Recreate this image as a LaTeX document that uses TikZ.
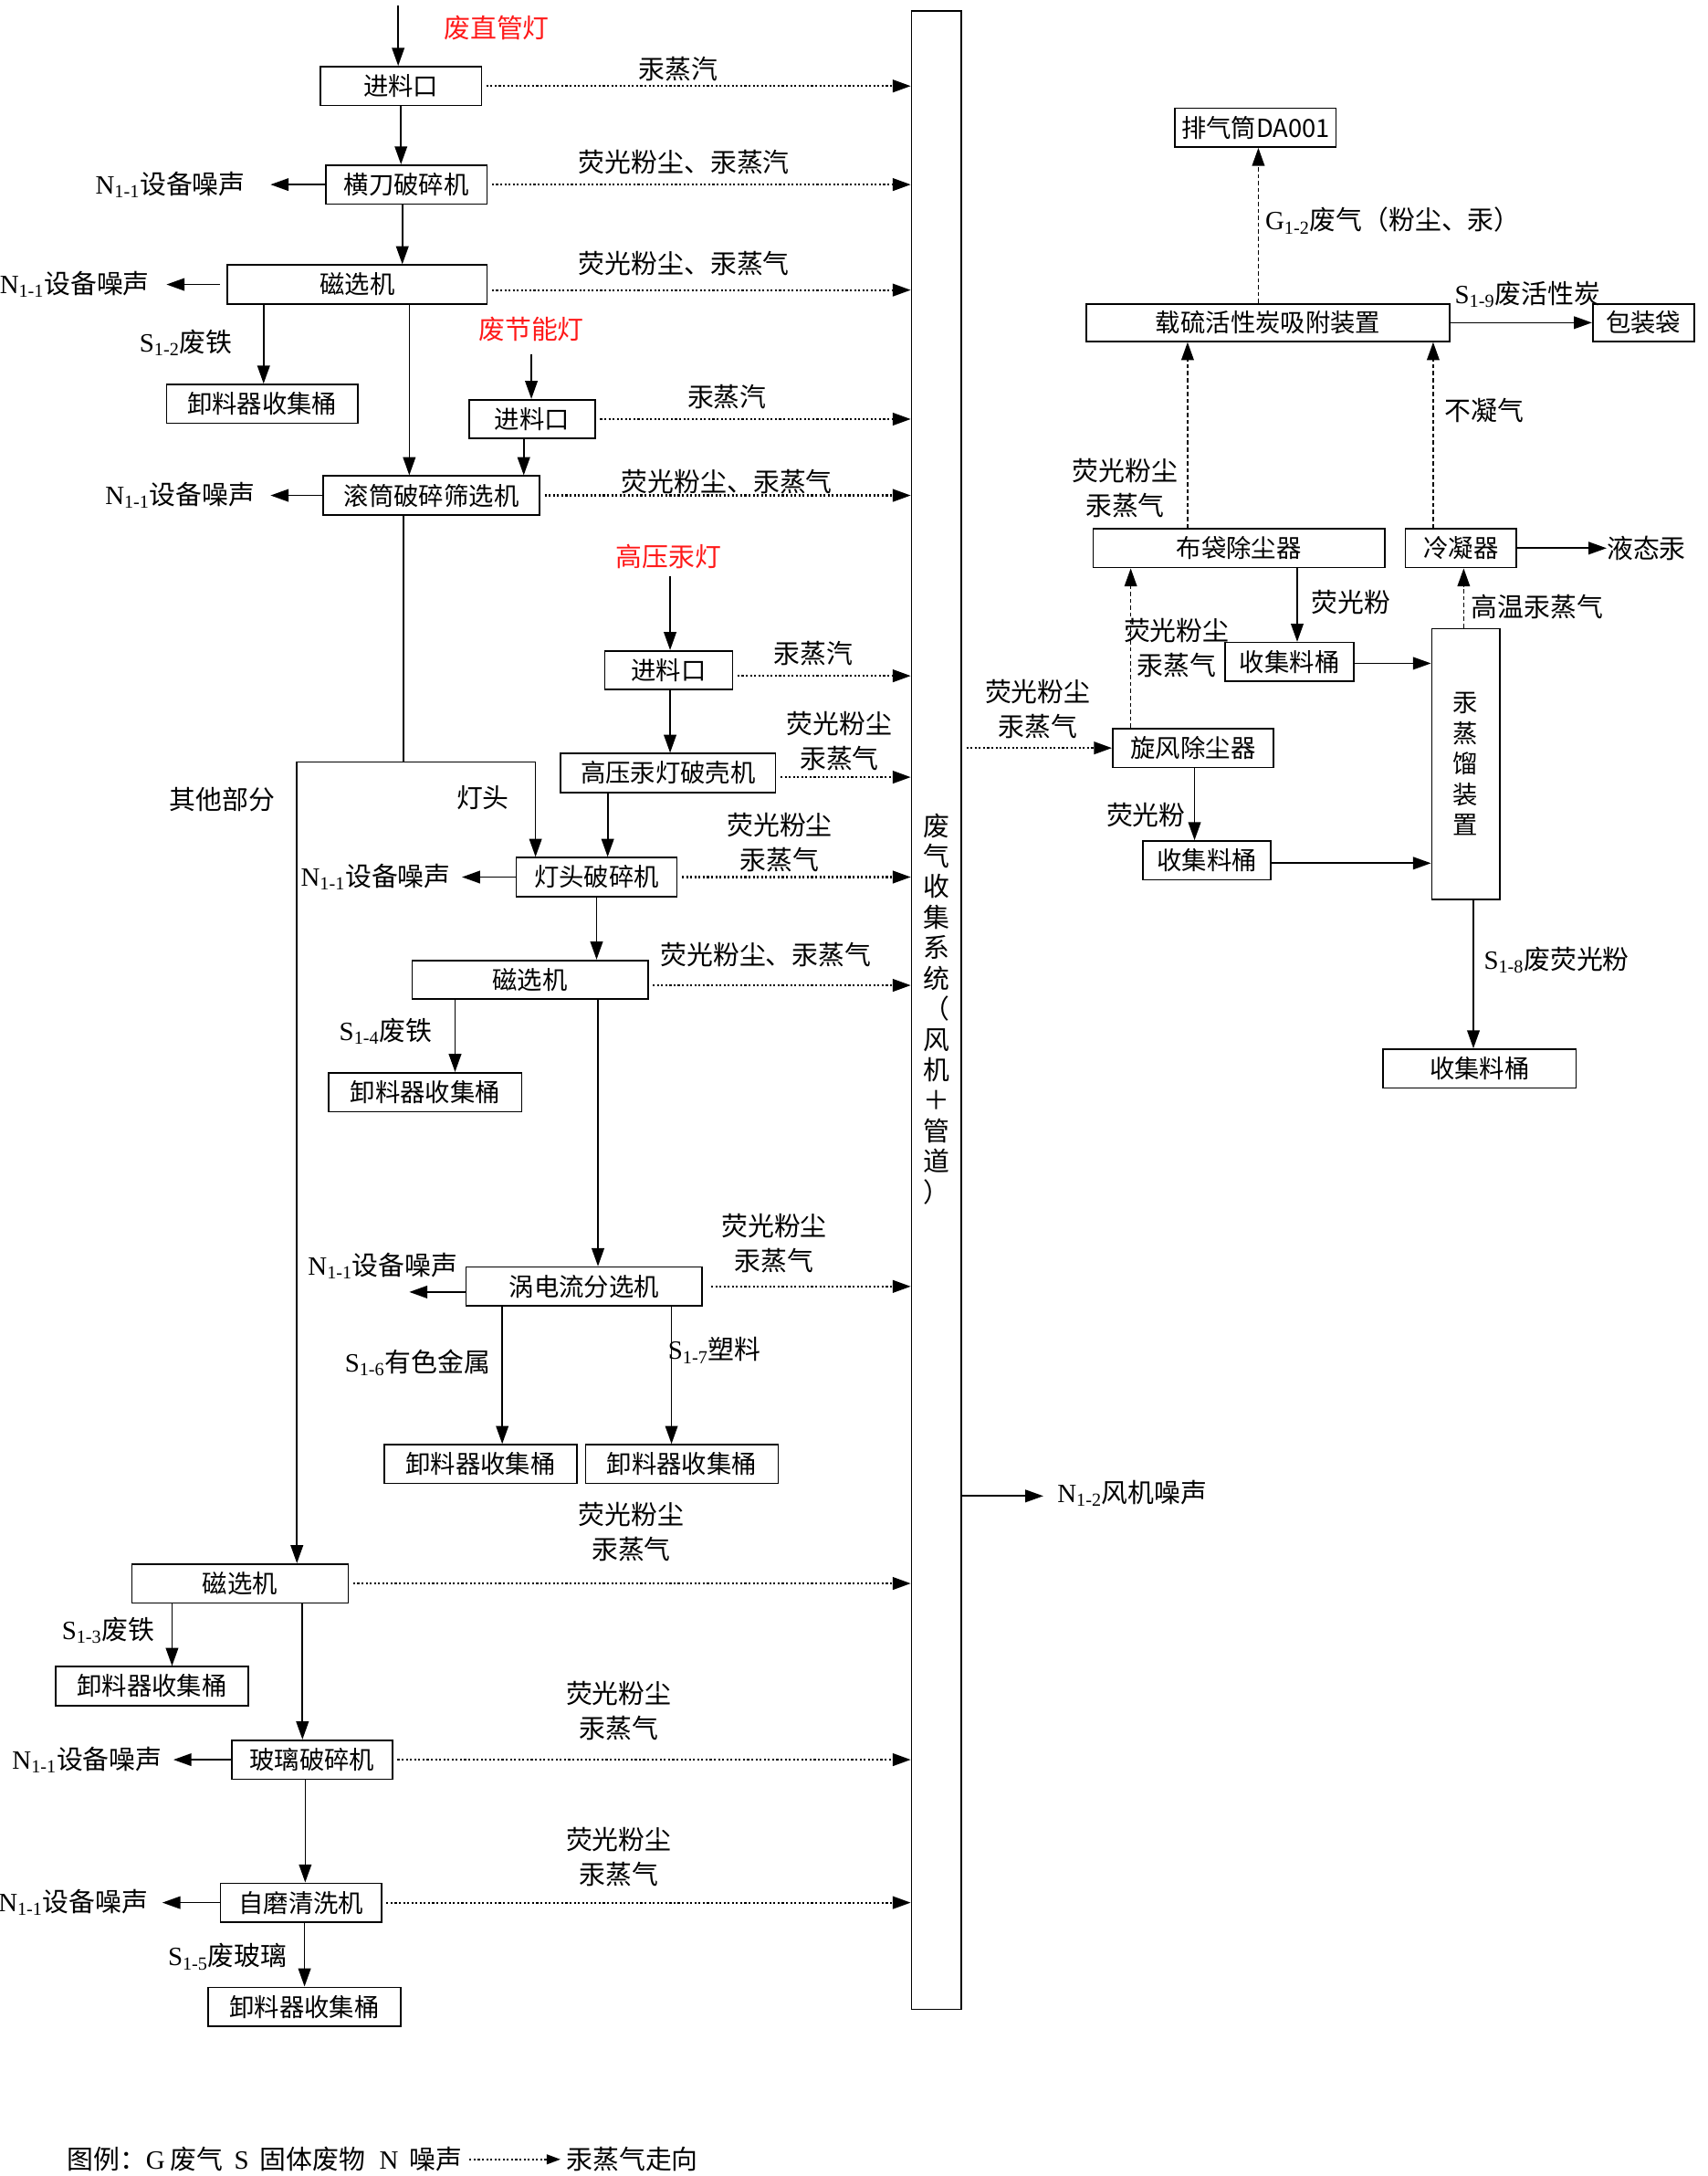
\documentclass[tikz,border=0pt]{standalone}
\usepackage{fontspec}
\setmainfont{Liberation Serif}
\newfontfamily\cjk{Noto Sans CJK SC}
\usetikzlibrary{arrows.meta,calc}
\definecolor{lampred}{RGB}{255,25,25}
\newcommand\sbs[2]{{\rmfamily #1\textsubscript{#2}}}
\begin{document}
\begin{tikzpicture}[x=1pt,y=-1pt,
  pbox/.style={draw,line width=1.1pt,minimum height=28pt,inner sep=0pt,font=\cjk\fontsize{18}{22}\selectfont},
  lbl/.style={inner sep=0pt,font=\cjk\fontsize{19}{25}\selectfont,align=center},
  redlbl/.style={lbl,text=lampred},
  flowarrow/.style={line width=1.1pt,-{Triangle[length=13pt,width=9pt]}},
  solidline/.style={line width=1.1pt},
  gasarrow/.style={line width=1.4pt,dash pattern=on 1.4pt off 1.6pt,-{Triangle[length=13pt,width=9pt]},shorten <=3pt},
  gasvert/.style={line width=1.1pt,dash pattern=on 3pt off 2pt,-{Triangle[length=13pt,width=9pt]}},
]
\fill[white] (0,0) rectangle (1231,1568);
\useasboundingbox (0,0) rectangle (1231,1568);

% ---------- collection system ----------
\node[pbox,minimum width=36pt,minimum height=1440pt] (bus) at (675,728) {};
\node[lbl,font=\cjk\fontsize{19}{22}\selectfont] (bustxt) at (675,727) {废\\气\\收\\集\\系\\统\\（\\风\\机\\＋\\管\\道\\）};

% ---------- left process boxes ----------
\node[pbox,minimum width=116pt] (jl1) at (289,62) {进料口};
\node[pbox,minimum width=116pt] (hd) at (293,133) {横刀破碎机};
\node[pbox,minimum width=187pt] (cx1) at (257.5,205) {磁选机};
\node[pbox,minimum width=138pt] (xl1) at (189,291) {卸料器收集桶};
\node[pbox,minimum width=91pt] (jl2) at (383.5,302) {进料口};
\node[pbox,minimum width=156pt] (gt) at (311,357) {滚筒破碎筛选机};
\node[pbox,minimum width=92pt] (jl3) at (482,483) {进料口};
\node[pbox,minimum width=155pt] (pk) at (481.5,557) {高压汞灯破壳机};
\node[pbox,minimum width=116pt] (dt) at (430,632) {灯头破碎机};
\node[pbox,minimum width=170pt] (cx2) at (382,706) {磁选机};
\node[pbox,minimum width=139pt] (xl2) at (306.5,787) {卸料器收集桶};
\node[pbox,minimum width=170pt] (wd) at (421,927) {涡电流分选机};
\node[pbox,minimum width=139pt] (xl3) at (346.5,1055) {卸料器收集桶};
\node[pbox,minimum width=139pt] (xl4) at (491.5,1055) {卸料器收集桶};
\node[pbox,minimum width=156pt] (cx3) at (173,1141) {磁选机};
\node[pbox,minimum width=139pt] (xl5) at (109.5,1215) {卸料器收集桶};
\node[pbox,minimum width=116pt] (bl) at (225,1268) {玻璃破碎机};
\node[pbox,minimum width=116pt] (zm) at (217,1371) {自磨清洗机};
\node[pbox,minimum width=139pt] (xl6) at (219.5,1446) {卸料器收集桶};

% ---------- right treatment boxes ----------
\node[pbox,minimum width=116pt] (pq) at (905,92) {排气筒DA001};
\node[pbox,minimum width=262pt,minimum height=27pt] (zt) at (914,232.5) {载硫活性炭吸附装置};
\node[pbox,minimum width=73pt,minimum height=27pt] (bzd) at (1184.5,232.5) {包装袋};
\node[pbox,minimum width=210pt] (bd) at (893,395) {布袋除尘器};
\node[pbox,minimum width=80pt] (lnq) at (1053,395) {冷凝器};
\node[lbl,anchor=west] (ytg) at (1158,395) {液态汞};
\node[pbox,minimum width=93pt] (sa) at (929.5,477) {收集料桶};
\node[pbox,minimum width=49pt,minimum height=195pt,align=center,font=\cjk\fontsize{18}{22}\selectfont] (zl) at (1056.5,550.5) {汞\\蒸\\馏\\装\\置};
\node[pbox,minimum width=116pt] (xf) at (860,539) {旋风除尘器};
\node[pbox,minimum width=92pt] (sb) at (870,620) {收集料桶};
\node[pbox,minimum width=139pt] (sc) at (1066.5,770) {收集料桶};

% ---------- inputs ----------
\node[redlbl] (in1) at (358,20) {废直管灯};
\node[redlbl] (in2) at (383,237) {废节能灯};
\node[redlbl] (in3) at (482,401) {高压汞灯};
\coordinate (f1) at (287,4);
\coordinate (f2) at (383,255);
\coordinate (f3) at (483,415);
\draw[flowarrow] (f1) -- (f1 |- jl1.north);
\draw[flowarrow] (f2) -- (f2 |- jl2.north);
\draw[flowarrow] (f3) -- (f3 |- jl3.north);

% ---------- main solid flows ----------
\draw[flowarrow] (jl1.south) -- (jl1.south |- hd.north);
\draw[flowarrow] ([xshift=-3pt]hd.south) -- ([xshift=-3pt]hd.south |- cx1.north);
\draw[flowarrow] ([xshift=1pt]xl1.north |- cx1.south) -- ([xshift=1pt]xl1.north);
\draw[flowarrow] ([xshift=-16pt]gt.north |- cx1.south) -- ([xshift=-16pt]gt.north);
\draw[flowarrow] ([xshift=-6pt]jl2.south) -- ([xshift=-6pt]jl2.south |- gt.north);
\coordinate (jA) at (214,549);
\coordinate (jB) at (386,549);
\draw[solidline] ([xshift=-20pt]gt.south) -- ([xshift=-20pt]gt.south |- jA);
\draw[flowarrow] (jA) -- (jB) -- (jB |- dt.north);
\draw[flowarrow] (jA) -- (jA |- cx3.north);
\draw[flowarrow] ([xshift=1pt]jl3.south) -- ([xshift=1pt]jl3.south |- pk.north);
\draw[flowarrow] ([xshift=8pt]dt.north |- pk.south) -- ([xshift=8pt]dt.north);
\draw[flowarrow] (dt.south) -- (dt.south |- cx2.north);
\draw[flowarrow] ([xshift=21.5pt]xl2.north |- cx2.south) -- ([xshift=21.5pt]xl2.north);
\draw[flowarrow] ([xshift=10pt]wd.north |- cx2.south) -- ([xshift=10pt]wd.north);
\draw[flowarrow] ([xshift=15.5pt]xl3.north |- wd.south) -- ([xshift=15.5pt]xl3.north);
\draw[flowarrow] ([xshift=-7.5pt]xl4.north |- wd.south) -- ([xshift=-7.5pt]xl4.north);
\draw[flowarrow] ([xshift=14.5pt]xl5.north |- cx3.south) -- ([xshift=14.5pt]xl5.north);
\draw[flowarrow] ([xshift=-7pt]bl.north |- cx3.south) -- ([xshift=-7pt]bl.north);
\draw[flowarrow] ([xshift=3pt]zm.north |- bl.south) -- ([xshift=3pt]zm.north);
\draw[flowarrow] (xl6.north |- zm.south) -- (xl6.north);

% ---------- solid waste labels ----------
\node[lbl] (s12) at (134,247) {\sbs{S}{1-2}废铁};
\node[lbl] (s14) at (278,743) {\sbs{S}{1-4}废铁};
\node[lbl] (s16) at (301,982) {\sbs{S}{1-6}有色金属};
\node[lbl] (s17) at (515,973) {\sbs{S}{1-7}塑料};
\node[lbl] (s13) at (78,1175) {\sbs{S}{1-3}废铁};
\node[lbl] (s15) at (164,1410) {\sbs{S}{1-5}废玻璃};
\node[lbl] (dtl) at (348,575) {灯头};
\node[lbl] (qt) at (160,576) {其他部分};

% ---------- noise ----------
\coordinate (ne1) at (195,133);
\coordinate (ne2) at (120,205);
\coordinate (ne3) at (195,357);
\coordinate (ne4) at (333,632);
\coordinate (ne5) at (295,931);
\coordinate (ne6) at (125,1268);
\coordinate (ne7) at (117,1371);
\draw[flowarrow] (hd.west) -- (ne1);
\draw[flowarrow] ([xshift=-5pt]cx1.west) -- (ne2);
\draw[flowarrow] (gt.west) -- (ne3);
\draw[flowarrow] (dt.west) -- (ne4);
\draw[flowarrow] ([yshift=-4pt]wd.west) -- (ne5);
\draw[flowarrow] (bl.west) -- (ne6);
\draw[flowarrow] (zm.west) -- (ne7);
\node[lbl,anchor=east] (n1) at (177,133) {\sbs{N}{1-1}设备噪声};
\node[lbl,anchor=east] (n2) at (108,205) {\sbs{N}{1-1}设备噪声};
\node[lbl,anchor=east] (n3) at (184,357) {\sbs{N}{1-1}设备噪声};
\node[lbl,anchor=east] (n4) at (325,632) {\sbs{N}{1-1}设备噪声};
\node[lbl] (n5) at (276,912) {\sbs{N}{1-1}设备噪声};
\node[lbl,anchor=east] (n6) at (117,1268) {\sbs{N}{1-1}设备噪声};
\node[lbl,anchor=east] (n7) at (107,1371) {\sbs{N}{1-1}设备噪声};

% ---------- gas to collection system ----------
\draw[gasarrow] (jl1.east) -- (jl1.east -| bus.west);
\draw[gasarrow] (hd.east) -- (hd.east -| bus.west);
\draw[gasarrow] ([yshift=-4pt]cx1.east) -- ([yshift=-4pt]cx1.east -| bus.west);
\draw[gasarrow] (jl2.east) -- (jl2.east -| bus.west);
\draw[gasarrow] (gt.east) -- (gt.east -| bus.west);
\draw[gasarrow] ([yshift=-4pt]jl3.east) -- ([yshift=-4pt]jl3.east -| bus.west);
\draw[gasarrow] ([yshift=-3pt]pk.east) -- ([yshift=-3pt]pk.east -| bus.west);
\draw[gasarrow] (dt.east) -- (dt.east -| bus.west);
\draw[gasarrow] ([yshift=-4pt]cx2.east) -- ([yshift=-4pt]cx2.east -| bus.west);
\draw[gasarrow] ([xshift=3pt]wd.east) -- (wd.east -| bus.west);
\draw[gasarrow] (cx3.east) -- (cx3.east -| bus.west);
\draw[gasarrow] (bl.east) -- (bl.east -| bus.west);
\draw[gasarrow] (zm.east) -- (zm.east -| bus.west);
\node[lbl] (g1) at (489,50) {汞蒸汽};
\node[lbl] (g2) at (493,117) {荧光粉尘、汞蒸汽};
\node[lbl] (g3) at (493,190) {荧光粉尘、汞蒸气};
\node[lbl] (g4) at (524,286) {汞蒸汽};
\node[lbl] (g5) at (524,347) {荧光粉尘、汞蒸气};
\node[lbl] (g6) at (586,471) {汞蒸汽};
\node[lbl] (g7) at (605,534) {荧光粉尘\\汞蒸气};
\node[lbl] (g8) at (562,607) {荧光粉尘\\汞蒸气};
\node[lbl] (g9) at (552,688) {荧光粉尘、汞蒸气};
\node[lbl] (g10) at (558,896) {荧光粉尘\\汞蒸气};
\node[lbl] (g11) at (455,1104) {荧光粉尘\\汞蒸气};
\node[lbl] (g12) at (446,1233) {荧光粉尘\\汞蒸气};
\node[lbl] (g13) at (446,1338) {荧光粉尘\\汞蒸气};

% ---------- right side flows ----------
\coordinate (n12e) at (752,1078);
\draw[flowarrow] (bus.east |- n12e) -- (n12e);
\node[lbl,anchor=west] (n12) at (762,1076) {\sbs{N}{1-2}风机噪声};
\draw[gasarrow] (xf.west -| bus.east) -- (xf.west);
\node[lbl] (r1) at (748,511) {荧光粉尘\\汞蒸气};
\draw[gasvert] ([xshift=-45pt]xf.north) -- ([xshift=-45pt]xf.north |- bd.south);
\node[lbl] (r2) at (848,467) {荧光粉尘\\汞蒸气};
\draw[flowarrow] ([xshift=1pt]xf.south) -- ([xshift=1pt]xf.south |- sb.north);
\node[lbl] (r3) at (826,587) {荧光粉};
\draw[flowarrow] ([xshift=42pt]bd.south) -- ([xshift=42pt]bd.south |- sa.north);
\node[lbl] (r4) at (974,434) {荧光粉};
\draw[flowarrow] ([yshift=-1pt]sa.east) -- ([yshift=-1pt]sa.east -| zl.west);
\draw[flowarrow] ([yshift=-2pt]sb.east) -- ([yshift=-2pt]sb.east -| zl.west);
\draw[gasvert] ([xshift=-1.5pt]zl.north) -- ([xshift=-1.5pt]zl.north |- lnq.south);
\node[lbl] (r5) at (1108,437) {高温汞蒸气};
\draw[flowarrow] (lnq.east) -- (ytg.west);
\draw[gasvert] ([xshift=-37pt]bd.north) -- ([xshift=-37pt]bd.north |- zt.south);
\node[lbl] (r6) at (811,352) {荧光粉尘\\汞蒸气};
\draw[gasvert] ([xshift=-20pt]lnq.north) -- ([xshift=-20pt]lnq.north |- zt.south);
\node[lbl] (r7) at (1070,296) {不凝气};
\draw[gasvert] ([xshift=2pt]pq.south |- zt.north) -- ([xshift=2pt]pq.south);
\node[lbl] (r8) at (1004,159) {\sbs{G}{1-2}废气（粉尘、汞）};
\draw[flowarrow] (zt.east) -- (bzd.west);
\node[lbl] (r9) at (1101,212) {\sbs{S}{1-9}废活性炭};
\draw[flowarrow] ([xshift=5.5pt]zl.south) -- ([xshift=5.5pt]zl.south |- sc.north);
\node[lbl] (r10) at (1122,692) {\sbs{S}{1-8}废荧光粉};

% ---------- legend ----------
\node[lbl,anchor=west] (leg1) at (48,1556) {图例：{\rmfamily G}\hspace{4pt}废气\hspace{8pt}{\rmfamily S}\hspace{8pt}固体废物\hspace{10pt}{\rmfamily N}\hspace{8pt}噪声};
\node[lbl,anchor=west] (leg2) at (408,1556) {汞蒸气走向};
\draw[gasarrow,-{Triangle[length=10pt,width=7pt]}] ([xshift=2pt]leg1.east) -- ([xshift=-4pt]leg2.west);
\end{tikzpicture}
\end{document}
